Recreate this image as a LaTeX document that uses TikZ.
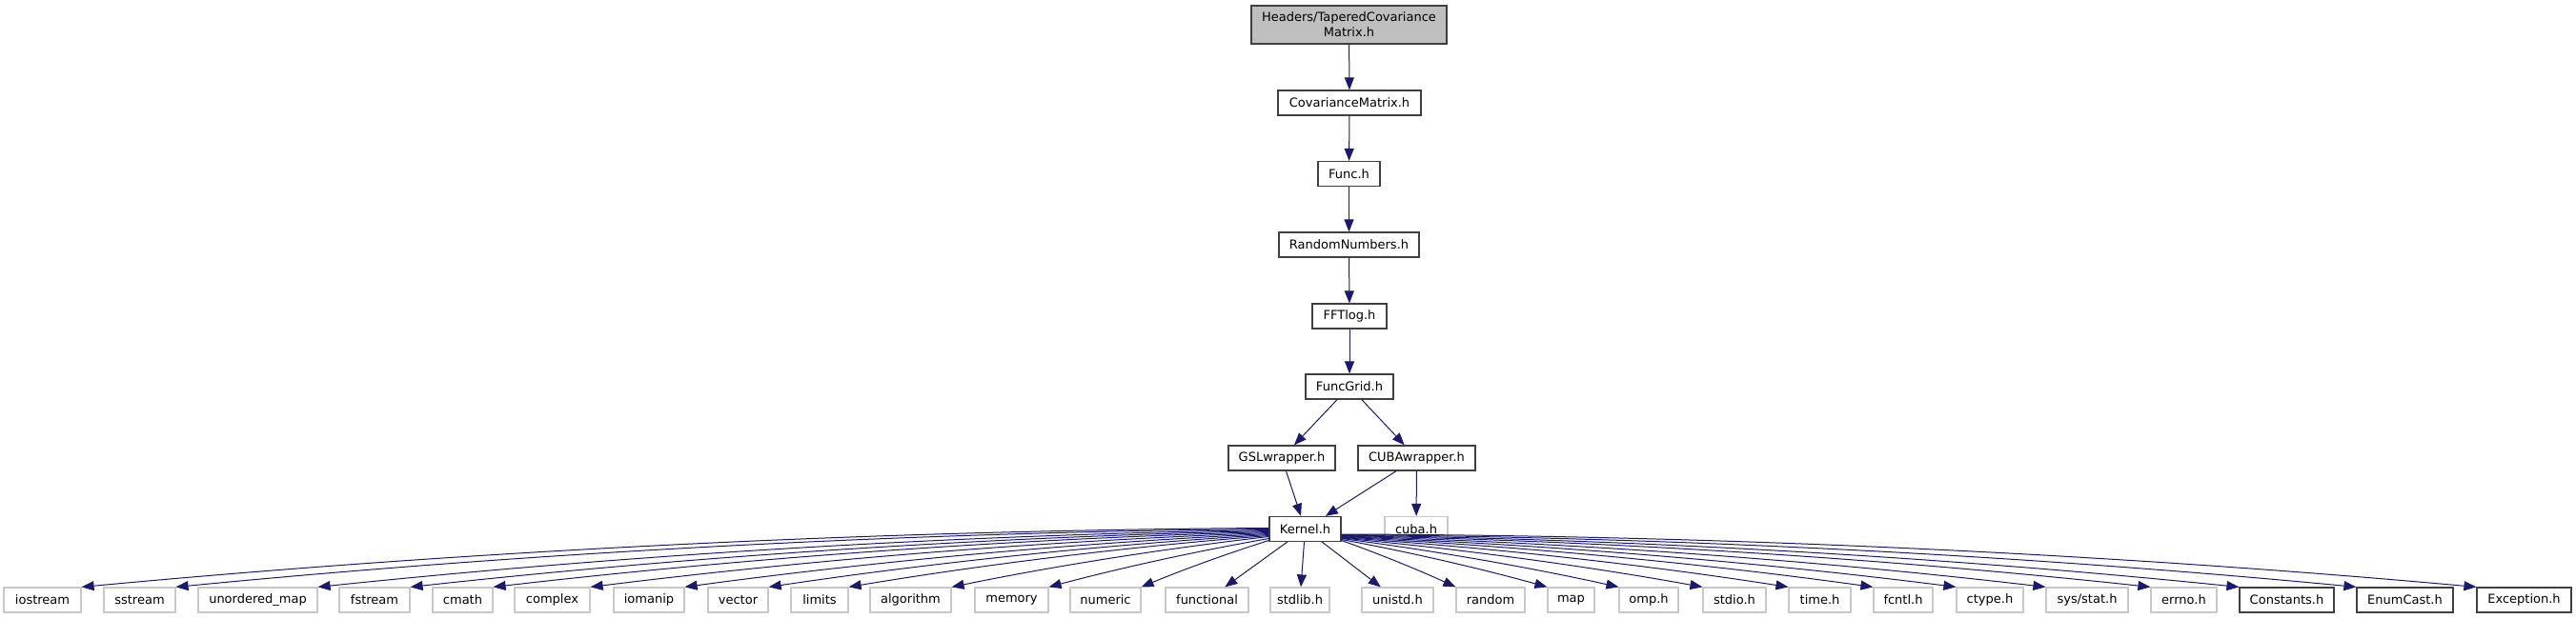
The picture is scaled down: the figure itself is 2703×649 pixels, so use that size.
\documentclass[tikz,border=0pt]{standalone}
\usepackage{fontspec}
\setmainfont{DejaVu Sans}
\usetikzlibrary{arrows.meta,positioning,calc}
\definecolor{edgeblue}{HTML}{191970}
\definecolor{rootgray}{HTML}{BFBFBF}
\definecolor{boxgray}{HTML}{404040}
\definecolor{sysgray}{HTML}{C8C8C8}

\begin{document}
\begin{tikzpicture}[
    x=1pt, y=1pt,
    hdr/.style={rectangle, draw=boxgray, line width=1.2pt, fill=white, minimum width=#1, minimum height=26pt, inner sep=0pt, font=\fontsize{13}{16}\selectfont},
    sys/.style={hdr=#1, draw=sysgray},
    rootbox/.style={hdr=#1, fill=rootgray, minimum height=40pt, align=center},
    dep/.style={draw=edgeblue, line width=1pt, -{Triangle[length=13pt,width=10pt]}},
    fanl/.style={dep, to path={.. controls ($(\tikztostart)!0.33!357.5:(\tikztotarget)$) and ($(\tikztotarget)!0.33!2.5:(\tikztostart)$) .. (\tikztotarget)}},
    fanr/.style={dep, to path={.. controls ($(\tikztostart)!0.33!2.5:(\tikztotarget)$) and ($(\tikztotarget)!0.33!357.5:(\tikztostart)$) .. (\tikztotarget)}}
]
    \path[fill=white] (0,0) rectangle (2703,649);
    \useasboundingbox (0,0) rectangle (2703,649);

    % Include chain
    \node[rootbox=205pt] (root) at (1415.5,623) {Headers/TaperedCovariance\\Matrix.h};
    \node[hdr=150pt] (cov) at (1416,541) {CovarianceMatrix.h};
    \node[hdr=65pt] (func) at (1415.5,466.5) {Func.h};
    \node[hdr=147pt] (rand) at (1415.5,392) {RandomNumbers.h};
    \node[hdr=78pt] (fftlog) at (1416,317) {FFTlog.h};
    \node[hdr=92pt] (grid) at (1416,243) {FuncGrid.h};
    \node[hdr=112pt] (gsl) at (1345,168) {GSLwrapper.h};
    \node[hdr=123pt] (cubaw) at (1486.5,168) {CUBAwrapper.h};
    \node[hdr=75pt] (kernel) at (1369.5,93.5) {Kernel.h};
    \node[sys=66pt] (cuba) at (1486,93.5) {cuba.h};

    % Headers included by Kernel.h
    \node[sys=81pt] (iostream) at (44.5,19) {iostream};
    \node[sys=75pt] (sstream) at (146.5,19) {sstream};
    \node[sys=125pt] (umap) at (270.5,19) {unordered\_map};
    \node[sys=74pt] (fstream) at (393,19) {fstream};
    \node[sys=63pt] (cmath) at (485.5,19) {cmath};
    \node[sys=79pt] (complex) at (579.5,19) {complex};
    \node[sys=74pt] (iomanip) at (681,19) {iomanip};
    \node[sys=63pt] (vector) at (774.5,19) {vector};
    \node[sys=60pt] (limits) at (860,19) {limits};
    \node[sys=85pt] (algorithm) at (955.5,19) {algorithm};
    \node[sys=77pt] (memory) at (1061.5,19) {memory};
    \node[sys=74pt] (numeric) at (1160,19) {numeric};
    \node[sys=87pt] (functional) at (1266.5,19) {functional};
    \node[sys=62pt] (stdlib) at (1364,19) {stdlib.h};
    \node[sys=75pt] (unistd) at (1466.5,19) {unistd.h};
    \node[sys=72pt] (random) at (1564,19) {random};
    \node[sys=49pt] (map) at (1648.5,19) {map};
    \node[sys=62pt] (omp) at (1730,19) {omp.h};
    \node[sys=66pt] (stdio) at (1820,19) {stdio.h};
    \node[sys=65pt] (time) at (1909.5,19) {time.h};
    \node[sys=62pt] (fcntl) at (1997,19) {fcntl.h};
    \node[sys=70pt] (ctype) at (2088,19) {ctype.h};
    \node[sys=86pt] (sysstat) at (2190,19) {sys/stat.h};
    \node[sys=69pt] (errno) at (2291.5,19) {errno.h};
    \node[hdr=99pt] (constants) at (2399.5,19) {Constants.h};
    \node[hdr=101pt] (enumcast) at (2523.5,19) {EnumCast.h};
    \node[hdr=99pt] (exception) at (2648.5,19) {Exception.h};

    % Chain edges
    \draw[dep] (root) -- (cov);
    \draw[dep] (cov) -- (func);
    \draw[dep] (func) -- (rand);
    \draw[dep] (rand) -- (fftlog);
    \draw[dep] (fftlog) -- (grid);
    \draw[dep] (grid) -- (gsl);
    \draw[dep] (grid) -- (cubaw);
    \draw[dep] (gsl) -- (kernel);
    \draw[dep] (cubaw) -- (kernel);
    \draw[dep] (cubaw) -- (cuba);

    % Fan to the left
    \draw[fanl] ([yshift=1pt]kernel.west) to (iostream.north east);
    \draw[fanl] ([yshift=0pt]kernel.west) to (sstream.north east);
    \draw[fanl] ([yshift=-1pt]kernel.west) to (umap.north east);
    \draw[fanl] ([yshift=-2pt]kernel.west) to (fstream.north east);
    \draw[fanl] ([yshift=-3pt]kernel.west) to (cmath.north east);
    \draw[fanl] ([yshift=-4pt]kernel.west) to (complex.north east);
    \draw[fanl] ([yshift=-5pt]kernel.west) to (iomanip.north east);
    \draw[fanl] ([yshift=-6pt]kernel.west) to (vector.north east);
    \draw[fanl] ([yshift=-7pt]kernel.west) to (limits.north east);
    \draw[fanl] ([yshift=-8pt]kernel.west) to (algorithm.north east);
    \draw[fanl] ([yshift=-10pt]kernel.west) to (memory.north east);
    \draw[fanl] ([yshift=-12pt]kernel.west) to (numeric.north east);

    % Straight below
    \draw[dep] (kernel) -- (functional);
    \draw[dep] (kernel) -- (stdlib);
    \draw[dep] (kernel) -- (unistd);

    % Fan to the right
    \draw[fanr] ([yshift=-12pt]kernel.east) to (random.north west);
    \draw[fanr] ([yshift=-11pt]kernel.east) to (map.north west);
    \draw[fanr] ([yshift=-10pt]kernel.east) to (omp.north west);
    \draw[fanr] ([yshift=-9.5pt]kernel.east) to (stdio.north west);
    \draw[fanr] ([yshift=-9pt]kernel.east) to (time.north west);
    \draw[fanr] ([yshift=-8.5pt]kernel.east) to (fcntl.north west);
    \draw[fanr] ([yshift=-8pt]kernel.east) to (ctype.north west);
    \draw[fanr] ([yshift=-7.5pt]kernel.east) to (sysstat.north west);
    \draw[fanr] ([yshift=-7pt]kernel.east) to (errno.north west);
    \draw[fanr] ([yshift=-6.5pt]kernel.east) to (constants.north west);
    \draw[fanr] ([yshift=-6pt]kernel.east) to (enumcast.north west);
    \draw[fanr] ([yshift=-5.5pt]kernel.east) to (exception.north west);
\end{tikzpicture}
\end{document}
